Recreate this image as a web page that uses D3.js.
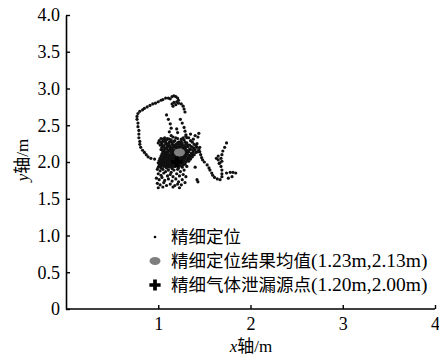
<!DOCTYPE html>
<html>
<head>
<meta charset="utf-8">
<script src="https://cdn.jsdelivr.net/npm/d3@7"></script>
<style>
  body { margin: 0; background: #fff; }
</style>
</head>
<body>
<svg id="chart" width="439" height="356"></svg>
<script>
const FONT = "'Liberation Serif', 'Times New Roman', 'Noto Sans CJK SC', serif";

// axis ticks
const xTicks = [1, 2, 3, 4];
const yTicks = [0, 0.5, 1.0, 1.5, 2.0, 2.5, 3.0, 3.5, 4.0];

// fine positioning track (x, y in m)
const loopPoints = [
  [0.96,2.04],[0.92,2.05],[0.89,2.07],[0.87,2.10],[0.85,2.13],[0.83,2.16],[0.81,2.20],[0.80,2.24],
  [0.80,2.28],[0.79,2.33],[0.79,2.38],[0.79,2.43],[0.78,2.48],[0.78,2.53],[0.77,2.58],[0.77,2.62],
  [0.78,2.66],[0.80,2.69],[0.83,2.71],[0.85,2.73],[0.88,2.75],[0.91,2.77],[0.94,2.79],[0.97,2.80],
  [1.00,2.82],[1.03,2.84],[1.05,2.85],[1.08,2.87],[1.11,2.87],[1.13,2.86],[1.15,2.89],[1.17,2.90],
  [1.19,2.89],[1.21,2.87],[1.22,2.84],[1.20,2.82],[1.17,2.81],[1.15,2.79],[1.16,2.76],[1.19,2.78],
  [1.22,2.80],[1.25,2.79],[1.27,2.76],[1.28,2.72],[1.29,2.68]
];
const innerPoints = [
  [1.09,2.64],[1.11,2.58],[1.13,2.52],[1.14,2.46],[1.12,2.41],[1.14,2.36],[1.20,2.45],[1.21,2.40],
  [1.24,2.58],[1.26,2.53],[1.28,2.47],[1.29,2.42],[1.30,2.37],[1.31,2.33]
];
const cloudPoints = [
  [1.03,2.32],[1.07,2.33],[1.12,2.31],[1.16,2.34],[1.21,2.32],[1.25,2.31],[1.30,2.35],[1.35,2.38],[1.40,2.36],[1.44,2.39],
  [1.01,2.29],[1.05,2.28],[1.09,2.30],[1.14,2.28],[1.18,2.29],[1.23,2.27],[1.28,2.30],[1.33,2.33],[1.38,2.31],[1.43,2.34],
  [1.00,2.26],[1.04,2.25],[1.08,2.27],[1.11,2.25],[1.15,2.26],[1.19,2.24],[1.22,2.27],[1.26,2.25],[1.31,2.26],[1.37,2.27],[1.42,2.25],
  [1.02,2.23],[1.06,2.22],[1.09,2.24],[1.13,2.22],[1.16,2.23],[1.20,2.21],[1.24,2.24],[1.28,2.22],[1.32,2.23],[1.36,2.21],[1.41,2.22],[1.45,2.20],
  [1.04,2.20],[1.07,2.19],[1.10,2.21],[1.13,2.19],[1.17,2.20],[1.20,2.18],[1.23,2.21],[1.27,2.19],[1.30,2.20],[1.34,2.18],[1.39,2.19],[1.44,2.17],
  [1.03,2.17],[1.06,2.16],[1.09,2.18],[1.12,2.16],[1.15,2.17],[1.19,2.15],[1.22,2.18],[1.25,2.16],[1.29,2.17],[1.33,2.15],[1.38,2.16],[1.43,2.14],
  [1.05,2.14],[1.08,2.13],[1.11,2.15],[1.14,2.13],[1.17,2.14],[1.20,2.12],[1.24,2.15],[1.27,2.13],[1.31,2.14],[1.36,2.12],[1.41,2.13],
  [1.04,2.11],[1.07,2.10],[1.10,2.12],[1.13,2.10],[1.16,2.11],[1.19,2.09],[1.22,2.12],[1.26,2.10],[1.30,2.11],[1.34,2.09],[1.39,2.10],
  [1.03,2.08],[1.06,2.07],[1.09,2.09],[1.12,2.07],[1.15,2.08],[1.18,2.06],[1.21,2.09],[1.25,2.07],[1.28,2.08],[1.32,2.06],[1.37,2.07],
  [1.02,2.05],[1.05,2.04],[1.08,2.06],[1.11,2.04],[1.14,2.05],[1.17,2.03],[1.20,2.06],[1.23,2.04],[1.27,2.05],[1.31,2.03],[1.35,2.04],
  [1.01,2.02],[1.04,2.01],[1.07,2.03],[1.10,2.01],[1.13,2.02],[1.16,2.00],[1.19,2.03],[1.22,2.01],[1.26,2.02],[1.30,2.00],[1.33,2.01],
  [1.00,1.99],[1.03,1.98],[1.06,2.00],[1.09,1.98],[1.12,1.99],[1.15,1.97],[1.18,2.00],[1.21,1.98],[1.25,1.99],[1.29,1.97],
  [1.01,1.96],[1.04,1.95],[1.07,1.97],[1.10,1.95],[1.13,1.96],[1.16,1.94],[1.19,1.97],[1.23,1.95],[1.27,1.96],[1.31,1.94],
  [1.00,1.93],[1.03,1.92],[1.06,1.94],[1.09,1.92],[1.12,1.93],[1.15,1.91],[1.18,1.94],[1.22,1.92],[1.26,1.93],
  // second pass through the dense core
  [1.05,2.31],[1.10,2.32],[1.14,2.30],[1.19,2.33],[1.27,2.33],
  [1.03,2.27],[1.07,2.29],[1.12,2.27],[1.17,2.28],[1.21,2.26],[1.25,2.28],[1.29,2.27],[1.35,2.29],
  [1.04,2.235],[1.08,2.245],[1.11,2.23],[1.15,2.245],[1.18,2.225],[1.22,2.235],[1.26,2.23],[1.30,2.24],[1.34,2.23],[1.39,2.24],
  [1.05,2.205],[1.09,2.195],[1.12,2.21],[1.15,2.195],[1.19,2.20],[1.22,2.195],[1.25,2.205],[1.29,2.195],[1.32,2.21],[1.37,2.20],[1.42,2.20],
  [1.04,2.165],[1.08,2.175],[1.11,2.165],[1.14,2.175],[1.17,2.16],[1.21,2.17],[1.24,2.165],[1.27,2.175],[1.31,2.16],[1.35,2.17],[1.40,2.165],
  [1.06,2.135],[1.10,2.14],[1.13,2.145],[1.16,2.13],[1.19,2.14],[1.22,2.13],[1.26,2.145],[1.29,2.13],[1.33,2.14],[1.38,2.135],
  [1.05,2.105],[1.09,2.11],[1.12,2.095],[1.15,2.105],[1.18,2.115],[1.21,2.10],[1.24,2.105],[1.28,2.095],[1.32,2.105],[1.37,2.10],
  [1.04,2.075],[1.08,2.08],[1.11,2.065],[1.14,2.075],[1.17,2.085],[1.20,2.07],[1.23,2.075],[1.27,2.065],[1.30,2.08],[1.34,2.07],
  [1.03,2.045],[1.07,2.05],[1.10,2.035],[1.13,2.045],[1.16,2.055],[1.19,2.04],[1.22,2.045],[1.25,2.035],[1.29,2.05],[1.33,2.04],
  [1.02,2.015],[1.06,2.02],[1.09,2.005],[1.12,2.015],[1.15,2.025],[1.18,2.01],[1.21,2.015],[1.24,2.005],[1.28,2.02],
  [1.02,1.985],[1.05,1.99],[1.08,1.975],[1.11,1.985],[1.14,1.995],[1.17,1.98],[1.20,1.985],[1.23,1.975],[1.27,1.99],
  [1.02,1.945],[1.05,1.96],[1.08,1.945],[1.11,1.955],[1.14,1.94],[1.17,1.955],[1.21,1.945],[1.25,1.95],
  // sparser lower part
  [0.99,1.90],[1.02,1.88],[1.05,1.90],[1.08,1.87],[1.11,1.89],[1.14,1.86],[1.17,1.89],[1.21,1.90],[1.24,1.87],[1.28,1.89],
  [1.00,1.84],[1.03,1.82],[1.06,1.85],[1.10,1.81],[1.13,1.83],[1.16,1.80],[1.20,1.84],[1.23,1.81],[1.27,1.83],[1.30,1.80],
  [0.98,1.78],[1.01,1.76],[1.04,1.79],[1.07,1.75],[1.11,1.77],[1.15,1.74],[1.19,1.77],[1.22,1.73],[1.26,1.76],
  [0.99,1.71],[1.02,1.69],[1.06,1.72],[1.09,1.68],[1.13,1.70],[1.18,1.68],[1.21,1.70],[1.25,1.69],[1.29,1.72],
  [1.00,1.65],[1.05,1.66],[1.16,1.66],[1.23,1.65],
  [1.40,1.93],[1.42,1.76]
];
const tailPoints = [
  [1.45,2.14],[1.46,2.10],[1.47,2.06],[1.48,2.03],[1.50,2.00],[1.53,1.96],[1.55,1.92],[1.56,1.89],
  [1.58,1.85],[1.59,1.82],[1.61,1.79],[1.64,1.77],[1.67,1.76],[1.69,1.80],[1.69,1.84],[1.69,1.89],
  [1.68,1.94],[1.67,1.99],[1.65,2.03],[1.63,2.05],[1.65,2.08],[1.68,2.05],[1.69,2.01],[1.66,1.98],
  [1.69,2.10],[1.70,2.15],[1.72,2.20],[1.74,2.26],
  [1.74,1.85],[1.78,1.86],[1.81,1.86],[1.84,1.85],[1.76,1.78],[1.80,1.80],
  [1.43,1.73]
];

// reference markers
const meanPoint = [1.23, 2.13];
const sourcePoint = [1.20, 2.00];
const legendNames = ["精细定位", "精细定位结果均值", "精细气体泄漏源点"];
const legendCoords = ["", "(1.23m,2.13m)", "(1.20m,2.00m)"];

const svg = d3.select("#chart");

const x = d3.scaleLinear().domain([0, 4]).range([66, 435]);
const y = d3.scaleLinear().domain([0, 4]).range([309, 15]);

// axes
const xAxis = svg.append("g")
  .attr("transform", `translate(0,${y(0)})`)
  .call(d3.axisBottom(x).tickValues(xTicks).tickSize(-4).tickSizeOuter(0).tickPadding(8)
    .tickFormat(d3.format("d")));
xAxis.select(".domain").attr("d", `M${x(0)},0H${x(4)}`);

const yAxis = svg.append("g")
  .attr("transform", `translate(${x(0)},0)`)
  .call(d3.axisLeft(y).tickValues(yTicks).tickSize(-4).tickSizeOuter(0).tickPadding(6)
    .tickFormat(d => d === 0 ? "0" : d3.format(".1f")(d)));

svg.selectAll("g").attr("font-family", FONT);
svg.selectAll(".domain").attr("stroke", "#000").attr("stroke-width", 1.6);
svg.selectAll(".tick line").attr("stroke", "#000").attr("stroke-width", 1.4);
svg.selectAll(".tick text").attr("fill", "#000").attr("font-size", 18);

// axis titles
const xTitle = svg.append("text")
  .attr("x", 251).attr("y", 352)
  .attr("text-anchor", "middle")
  .attr("font-family", FONT)
  .attr("font-size", 17);
xTitle.append("tspan").style("font-style", "italic").text("x");
xTitle.append("tspan").text("轴/m");

const yTitle = svg.append("text")
  .attr("transform", "translate(28,160) rotate(-90)")
  .attr("text-anchor", "middle")
  .attr("font-family", FONT)
  .attr("font-size", 17);
yTitle.append("tspan").style("font-style", "italic").text("y");
yTitle.append("tspan").text("轴/m");

// track points
const allPoints = loopPoints.concat(innerPoints, cloudPoints, tailPoints);
svg.append("g").selectAll("circle")
  .data(allPoints)
  .enter()
  .append("circle")
  .attr("cx", d => x(d[0]))
  .attr("cy", d => y(d[1]))
  .attr("r", 1.6)
  .attr("fill", "#111");

// markers
const drawMean = (g, cx, cy) => g.append("ellipse")
  .attr("cx", cx).attr("cy", cy).attr("rx", 5.5).attr("ry", 4).attr("fill", "#7f7f7f");
const drawCross = (g, cx, cy) => g.append("path")
  .attr("d", d3.symbol(d3.symbolCross, 70)())
  .attr("transform", `translate(${cx},${cy})`)
  .attr("fill", "#000");

drawMean(svg, x(meanPoint[0]), y(meanPoint[1]));
drawCross(svg, x(sourcePoint[0]), y(sourcePoint[1]));

// legend
const legend = svg.append("g").attr("transform", "translate(155,237)");
legend.append("circle").attr("cx", 0).attr("cy", 0).attr("r", 1.3).attr("fill", "#000");
drawMean(legend, 0, 24);
drawCross(legend, 0, 48);

const items = legend.selectAll("text.lbl")
  .data(legendNames)
  .enter()
  .append("text")
  .attr("class", "lbl")
  .attr("x", 16)
  .attr("y", (_, i) => i * 24)
  .attr("dy", "0.36em")
  .attr("font-family", FONT);
items.append("tspan").attr("font-size", 17.5).text(d => d);
items.append("tspan").attr("font-size", 19.5).text((_, i) => legendCoords[i]);
</script>
</body>
</html>
